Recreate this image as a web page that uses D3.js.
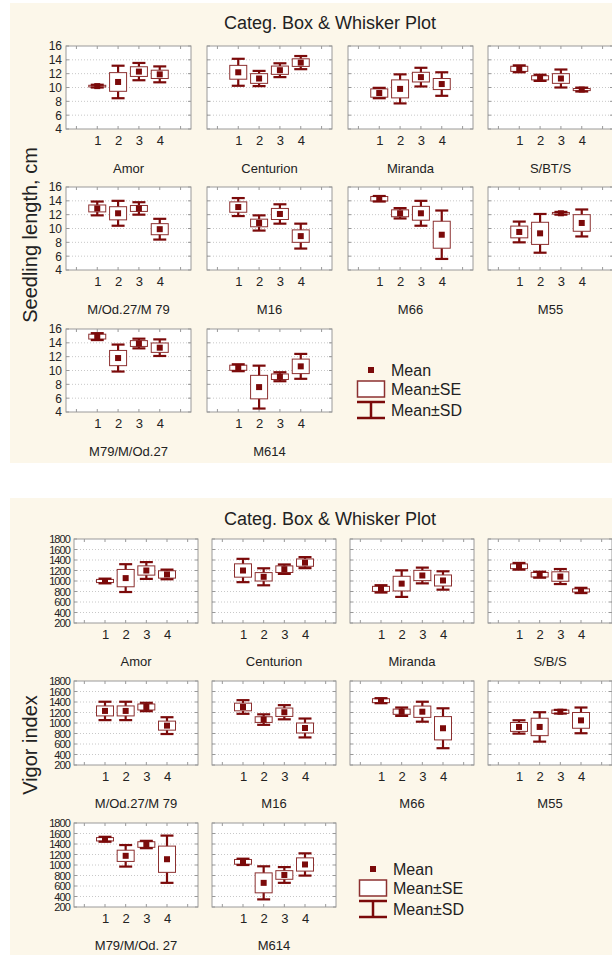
<!DOCTYPE html>
<html>
<head>
<meta charset="utf-8">
<script src="https://cdn.jsdelivr.net/npm/d3@7"></script>
<style>
  body { margin: 0; background: #fff; }
  svg text { font-family: "Liberation Sans", Arial, sans-serif; fill: #222; }
</style>
</head>
<body>
<div id="wrapper"></div>
<script>
// Data
const categories = [1, 2, 3, 4];

const lengthNames = ["Amor", "Centurion", "Miranda", "S/BT/S", "M/Od.27/M 79", "M16", "M66", "M55", "M79/M/Od.27", "M614"];
const lengthTicks = [4, 6, 8, 10, 12, 14, 16];
const lengthMean = [
  [10.2, 10.8, 12.3, 11.9],
  [12.2, 11.3, 12.5, 13.6],
  [9.2, 9.8, 11.5, 10.5],
  [12.7, 11.4, 11.3, 9.7],
  [12.9, 12.2, 12.9, 9.9],
  [13.1, 10.8, 12.1, 8.9],
  [14.3, 12.2, 12.2, 9.1],
  [9.5, 9.3, 12.2, 10.8],
  [14.9, 11.8, 13.9, 13.3],
  [10.4, 7.6, 9.1, 10.6]
];
const lengthSE = [
  [0.12, 1.35, 0.7, 0.6],
  [1.0, 0.7, 0.6, 0.55],
  [0.6, 1.3, 0.7, 0.8],
  [0.37, 0.3, 0.7, 0.15],
  [0.5, 0.95, 0.43, 0.8],
  [0.75, 0.55, 0.8, 0.9],
  [0.33, 0.5, 1.0, 1.95],
  [0.85, 1.6, 0.12, 1.2],
  [0.35, 1.1, 0.42, 0.68],
  [0.37, 1.7, 0.4, 1.05]
];
const lengthSD = [
  [0.2, 2.35, 1.25, 1.15],
  [1.95, 1.1, 1.0, 0.95],
  [0.75, 2.1, 1.35, 1.7],
  [0.5, 0.45, 1.3, 0.28],
  [1.0, 1.8, 0.9, 1.5],
  [1.3, 1.1, 1.4, 1.8],
  [0.4, 0.75, 1.8, 3.5],
  [1.5, 2.8, 0.2, 1.95],
  [0.5, 1.95, 0.7, 1.2],
  [0.5, 3.1, 0.65, 1.8]
];

const vigorNames = ["Amor", "Centurion", "Miranda", "S/B/S", "M/Od.27/M 79", "M16", "M66", "M55", "M79/M/Od. 27", "M614"];
const vigorTicks = [200, 400, 600, 800, 1000, 1200, 1400, 1600, 1800];
const vigorMean = [
  [1000, 1055, 1200, 1125],
  [1200, 1080, 1225, 1350],
  [850, 950, 1105, 1010],
  [1280, 1120, 1085, 820],
  [1230, 1230, 1305, 950],
  [1305, 1065, 1205, 905],
  [1425, 1215, 1215, 900],
  [925, 925, 1215, 1050],
  [1490, 1175, 1390, 1110],
  [1060, 660, 810, 1010]
];
const vigorSE = [
  [30, 165, 88, 70],
  [127, 80, 63, 70],
  [48, 140, 98, 105],
  [45, 44, 90, 30],
  [95, 95, 57, 86],
  [73, 54, 80, 95],
  [38, 50, 108, 222],
  [85, 166, 32, 150],
  [32, 107, 53, 250],
  [45, 190, 82, 126]
];
const vigorSD = [
  [45, 265, 160, 92],
  [222, 162, 90, 105],
  [70, 253, 150, 175],
  [64, 57, 143, 50],
  [175, 175, 80, 160],
  [130, 100, 135, 180],
  [48, 80, 190, 380],
  [127, 280, 35, 245],
  [47, 205, 70, 450],
  [60, 315, 150, 212]
];

const legendLabels = ["Mean", "Mean±SE", "Mean±SD"];

// Canvas
const svg = d3.select("#wrapper")
  .append("svg")
  .attr("width", 612)
  .attr("height", 955);

const maroon = "#7b0a0a";
const boxStroke = "#8c3030";
const intFormat = d3.format("d");

function drawPanel(p) {
  const g = svg.append("g");

  g.append("rect")
    .attr("x", 10).attr("y", p.top)
    .attr("width", 602).attr("height", p.height)
    .attr("fill", "#fcf7ea");

  g.append("text")
    .attr("x", 330).attr("y", p.titleY)
    .attr("text-anchor", "middle")
    .style("font-size", "18px")
    .text("Categ. Box & Whisker Plot");

  g.append("text")
    .attr("transform", `translate(${p.yLabelX},${p.yLabelY}) rotate(-90)`)
    .attr("text-anchor", "middle")
    .style("font-size", "20px")
    .text(p.yLabel);

  const yScale = d3.scaleLinear()
    .domain(d3.extent(p.ticks))
    .range([p.plotH, 0]);
  const xScale = d3.scaleLinear()
    .domain([-0.5, 5.5])
    .range([0, p.plotW]);
  const minorX = [0, 1, 2, 3, 4, 5];

  p.names.forEach((name, i) => {
    const col = i % 4;
    const row = Math.floor(i / 4);
    const cell = g.append("g")
      .attr("transform", `translate(${p.colX[col]},${p.rowY[row]})`);

    cell.append("rect")
      .attr("width", p.plotW).attr("height", p.plotH)
      .attr("fill", "#fff");

    // dotted grid
    cell.selectAll(".grid")
      .data(p.ticks.slice(1, -1))
      .join("line")
      .attr("class", "grid")
      .attr("x1", 0).attr("x2", p.plotW)
      .attr("y1", d => yScale(d)).attr("y2", d => yScale(d))
      .attr("stroke", "#c8c8c8")
      .attr("stroke-dasharray", "1,2");

    // small inner ticks
    cell.selectAll(".tt")
      .data(minorX)
      .join("line")
      .attr("class", "tt")
      .attr("x1", d => xScale(d)).attr("x2", d => xScale(d))
      .attr("y1", 0).attr("y2", 3)
      .attr("stroke", "#999");
    cell.selectAll(".tb")
      .data(minorX)
      .join("line")
      .attr("class", "tb")
      .attr("x1", d => xScale(d)).attr("x2", d => xScale(d))
      .attr("y1", p.plotH).attr("y2", p.plotH - 3)
      .attr("stroke", "#999");
    cell.selectAll(".tr")
      .data(p.ticks)
      .join("line")
      .attr("class", "tr")
      .attr("x1", p.plotW).attr("x2", p.plotW - 3)
      .attr("y1", d => yScale(d)).attr("y2", d => yScale(d))
      .attr("stroke", "#999");
    cell.selectAll(".tl")
      .data(p.ticks)
      .join("line")
      .attr("class", "tl")
      .attr("x1", 0).attr("x2", 3)
      .attr("y1", d => yScale(d)).attr("y2", d => yScale(d))
      .attr("stroke", "#999");

    cell.append("rect")
      .attr("width", p.plotW).attr("height", p.plotH)
      .attr("fill", "none")
      .attr("stroke", "#9a9a9a");

    // x axis labels
    const xAxis = cell.append("g")
      .attr("transform", `translate(0,${p.plotH})`)
      .call(d3.axisBottom(xScale).tickValues(categories).tickFormat(intFormat).tickSize(0).tickPadding(7));
    xAxis.select(".domain").remove();
    xAxis.selectAll("text")
      .attr("fill", "#222")
      .style("font-family", '"Liberation Sans", Arial, sans-serif')
      .style("font-size", "13px");

    // y axis labels only in first column
    if (col === 0) {
      const yAxis = cell.append("g")
        .call(d3.axisLeft(yScale).tickValues(p.ticks).tickFormat(intFormat).tickSize(0).tickPadding(4));
      yAxis.select(".domain").remove();
      yAxis.selectAll("text")
        .attr("fill", "#222")
        .style("font-family", '"Liberation Sans", Arial, sans-serif')
        .style("font-size", p.yFont)
        .style("letter-spacing", p.yLetter);
    }

    // name under plot
    cell.append("text")
      .attr("x", p.plotW / 2)
      .attr("y", p.plotH + p.nameOffset)
      .attr("text-anchor", "middle")
      .style("font-size", "13px")
      .text(name);

    const data = categories.map((c, j) => ({
      c: c,
      mean: p.mean[i][j],
      se: p.se[i][j],
      sd: p.sd[i][j]
    }));

    const items = cell.selectAll(".item")
      .data(data)
      .join("g")
      .attr("class", "item")
      .attr("transform", d => `translate(${xScale(d.c)},0)`);

    items.append("line")
      .attr("y1", d => yScale(d.mean + d.sd))
      .attr("y2", d => yScale(d.mean - d.sd))
      .attr("stroke", maroon)
      .attr("stroke-width", 2.2);

    items.append("rect")
      .attr("x", -8.5).attr("width", 17)
      .attr("y", d => yScale(d.mean + d.se))
      .attr("height", d => yScale(d.mean - d.se) - yScale(d.mean + d.se))
      .attr("fill", "#fff")
      .attr("stroke", boxStroke)
      .attr("stroke-width", 1);

    items.append("line")
      .attr("x1", -6.5).attr("x2", 6.5)
      .attr("y1", d => yScale(d.mean + d.sd))
      .attr("y2", d => yScale(d.mean + d.sd))
      .attr("stroke", maroon)
      .attr("stroke-width", 2.2);
    items.append("line")
      .attr("x1", -6.5).attr("x2", 6.5)
      .attr("y1", d => yScale(d.mean - d.sd))
      .attr("y2", d => yScale(d.mean - d.sd))
      .attr("stroke", maroon)
      .attr("stroke-width", 2.2);

    items.append("rect")
      .attr("x", -3).attr("width", 6)
      .attr("y", d => yScale(d.mean) - 3).attr("height", 6)
      .attr("fill", maroon);
  });

  // legend
  const lg = g.append("g").attr("transform", `translate(${p.legend[0]},${p.legend[1]})`);
  lg.append("rect")
    .attr("x", 11).attr("y", -3).attr("width", 6).attr("height", 6)
    .attr("fill", maroon);
  lg.append("rect")
    .attr("x", 0.5).attr("y", 11).attr("width", 27).attr("height", 16)
    .attr("fill", "#fff")
    .attr("stroke", boxStroke)
    .attr("stroke-width", 1.5);
  lg.append("line")
    .attr("x1", 0).attr("x2", 28).attr("y1", 32).attr("y2", 32)
    .attr("stroke", maroon).attr("stroke-width", 2.5);
  lg.append("line")
    .attr("x1", 0).attr("x2", 28).attr("y1", 48).attr("y2", 48)
    .attr("stroke", maroon).attr("stroke-width", 2.5);
  lg.append("line")
    .attr("x1", 14).attr("x2", 14).attr("y1", 32).attr("y2", 48)
    .attr("stroke", maroon).attr("stroke-width", 2.5);
  lg.selectAll(".lt")
    .data(legendLabels)
    .join("text")
    .attr("class", "lt")
    .attr("x", 34)
    .attr("y", (d, k) => [0, 19, 40][k])
    .attr("dy", "0.35em")
    .style("font-size", "16px")
    .text(d => d);
}

drawPanel({
  top: 3, height: 460, titleY: 29,
  yLabel: "Seedling length, cm", yLabelX: 37, yLabelY: 235,
  names: lengthNames, mean: lengthMean, se: lengthSE, sd: lengthSD,
  ticks: lengthTicks,
  colX: [66, 207, 348, 488], rowY: [46, 187, 329],
  plotW: 125, plotH: 83,
  nameOffset: 44,
  yFont: "12px", yLetter: "0px",
  legend: [357, 370]
});

drawPanel({
  top: 498, height: 457, titleY: 525,
  yLabel: "Vigor index", yLabelX: 37, yLabelY: 745,
  names: vigorNames, mean: vigorMean, se: vigorSE, sd: vigorSD,
  ticks: vigorTicks,
  colX: [74, 212, 350, 488], rowY: [539, 681, 823],
  plotW: 124, plotH: 84,
  nameOffset: 43,
  yFont: "11px", yLetter: "-0.9px",
  legend: [359, 869]
});
</script>
</body>
</html>
